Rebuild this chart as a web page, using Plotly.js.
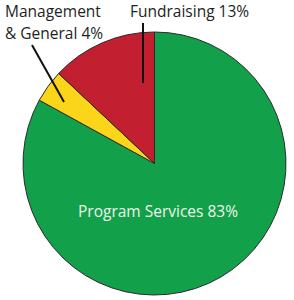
<!DOCTYPE html>
<html>
<head>
<meta charset="utf-8">
<script src="https://cdn.plot.ly/plotly-3.0.1.min.js"></script>
<style>html,body{margin:0;padding:0;background:#fff;}#chart{width:294px;height:300px;}</style>
</head>
<body>
<div id="chart"></div>
<script>
var categories = ["Program Services", "Management & General", "Fundraising"];
var shares = [83, 4, 13];
var sliceColors = ["#12a04b", "#fbd519", "#c21f31"];

var W = 294, H = 300;
function px(x){ return x / W; }
function py(y){ return 1 - y / H; }

var trace = {
  type: "pie",
  labels: categories,
  values: shares,
  sort: false,
  direction: "clockwise",
  rotation: 0,
  textinfo: "none",
  hoverinfo: "label+percent",
  marker: { colors: sliceColors, line: { color: "#2b2b2b", width: 1 } },
  domain: { x: [px(23), px(286)], y: [py(296), py(31)] },
  showlegend: false
};

var fontFam = "'Open Sans', 'Noto Sans', sans-serif";
var mgmtParts = categories[1].split(" & ");
var layout = {
  width: W, height: H,
  margin: { l: 0, r: 0, t: 0, b: 0 },
  paper_bgcolor: "#ffffff",
  showlegend: false,
  annotations: [
    { xref: "paper", yref: "paper", x: px(3), y: py(11), xanchor: "left", yanchor: "middle", align: "left",
      text: mgmtParts[0], showarrow: false,
      font: { family: fontFam, size: 15.5, color: "#231f20" } },
    { xref: "paper", yref: "paper", x: px(3), y: py(33), xanchor: "left", yanchor: "middle", align: "left",
      text: "& " + mgmtParts[1] + " " + shares[1] + "%", showarrow: false,
      font: { family: fontFam, size: 15.5, color: "#231f20" } },
    { xref: "paper", yref: "paper", x: px(128), y: py(11), xanchor: "left", yanchor: "middle",
      text: categories[2] + " " + shares[2] + "%", showarrow: false,
      font: { family: fontFam, size: 15.5, color: "#231f20" } },
    { xref: "paper", yref: "paper", x: px(158), y: py(211), xanchor: "center", yanchor: "middle",
      text: categories[0] + " " + shares[0] + "%", showarrow: false,
      font: { family: fontFam, size: 15.5, color: "#eef7e6" } }
  ],
  shapes: [
    { type: "line", xref: "paper", yref: "paper", x0: px(32), y0: py(45), x1: px(64), y1: py(102),
      line: { color: "#111", width: 2 } },
    { type: "line", xref: "paper", yref: "paper", x0: px(143), y0: py(23), x1: px(143), y1: py(83),
      line: { color: "#111", width: 2 } }
  ]
};

Plotly.newPlot("chart", [trace], layout, { displayModeBar: false, staticPlot: true });
</script>
</body>
</html>
